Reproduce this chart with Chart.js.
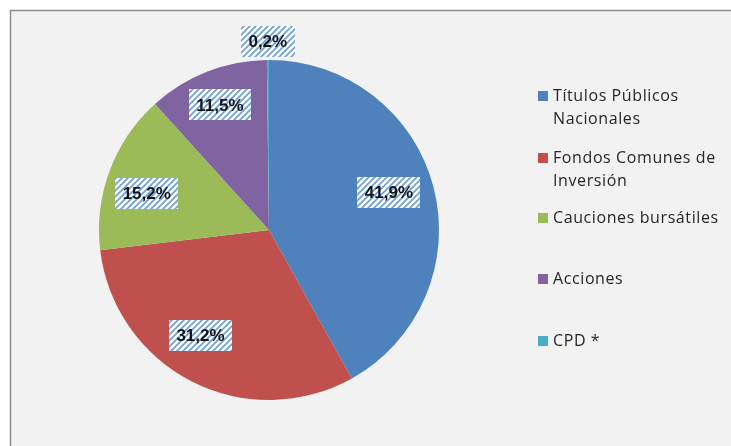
<!DOCTYPE html>
<html><head><meta charset="utf-8">
<script src="https://cdn.jsdelivr.net/npm/chart.js@4"></script>
<style>
html,body{margin:0;padding:0;background:#fff;}
#wrap{position:relative;width:731px;height:446px;}
</style></head>
<body><div id="wrap"><canvas id="c" width="731" height="446"></canvas></div>
<script>
const categories = ["Títulos Públicos Nacionales","Fondos Comunes de Inversión","Cauciones bursátiles","Acciones","CPD *"];
const legendLines = [["Títulos Públicos","Nacionales"],["Fondos Comunes de","Inversión"],["Cauciones bursátiles"],["Acciones"],["CPD *"]];
const values = [41.9, 31.2, 15.2, 11.5, 0.2];
const valueLabels = ["41,9%","31,2%","15,2%","11,5%","0,2%"];
const colors = ["#4f81bd","#c0504d","#9bbb59","#8064a2","#4bacc6"];

function hatch(){
  const p=document.createElement('canvas'); p.width=6; p.height=6;
  const g=p.getContext('2d');
  g.fillStyle='#ffffff'; g.fillRect(0,0,6,6);
  g.strokeStyle='#6f9fd8'; g.lineWidth=1.7;
  g.beginPath();
  g.moveTo(-1,7); g.lineTo(7,-1);
  g.moveTo(-4,4); g.lineTo(4,-4);
  g.moveTo(2,10); g.lineTo(10,2);
  g.stroke();
  return p;
}

const bgPlugin={id:'bg',beforeDraw(ch){
  const c=ch.ctx; c.save();
  c.fillStyle='#ffffff'; c.fillRect(0,0,ch.width,ch.height);
  c.fillStyle='#f2f2f2'; c.fillRect(10,10,ch.width-10,ch.height-10);
  c.strokeStyle='#8c8c8c'; c.lineWidth=1.5;
  c.beginPath(); c.moveTo(10.5,ch.height); c.lineTo(10.5,10.5); c.lineTo(ch.width,10.5); c.stroke();
  c.restore();
}};

// label placement relative to each slice: radial fraction and angular shift (deg)
const labelPlace=[{r:0.74,da:-3},{r:0.74,da:6},{r:0.75,da:-4},{r:0.79,da:0},{r:1.11,da:0}];

const labelPlugin={id:'lbls',afterDatasetsDraw(ch){
  const c=ch.ctx; const meta=ch.getDatasetMeta(0);
  const pat=c.createPattern(hatch(),'repeat');
  c.save();
  c.font='bold 17px "Liberation Sans", Arial, sans-serif';
  c.textAlign='center'; c.textBaseline='middle';
  meta.data.forEach((arc,i)=>{
    const {x,y,startAngle,endAngle,outerRadius}=arc.getProps(['x','y','startAngle','endAngle','outerRadius'],true);
    const mid=(startAngle+endAngle)/2 + labelPlace[i].da*Math.PI/180;
    const r=outerRadius*labelPlace[i].r;
    const lx=x+Math.cos(mid)*r, ly=y+Math.sin(mid)*r;
    const t=valueLabels[i]; const w=Math.round(c.measureText(t).width+15), h=31;
    c.fillStyle=pat; c.fillRect(Math.round(lx-w/2),Math.round(ly-h/2),w,h);
    c.fillStyle='#141414'; c.fillText(t,lx,ly+1);
  });
  c.restore();
}};

const legendPlugin={id:'leg',afterDraw(ch){
  const c=ch.ctx; c.save();
  c.font='16px "Open Sans", "DejaVu Sans", sans-serif';
  try{c.letterSpacing='0.6px';}catch(e){}
  c.textBaseline='middle'; c.textAlign='left';
  const ys=[96,158,218,279,341];
  legendLines.forEach((lines,i)=>{
    c.fillStyle=colors[i]; c.fillRect(538,ys[i]-5,10,10);
    c.fillStyle='#262626';
    lines.forEach((ln,j)=>c.fillText(ln,553,ys[i]+j*23));
  });
  c.restore();
}};

new Chart(document.getElementById('c'),{
  type:'pie',
  data:{labels:categories,datasets:[{data:values,backgroundColor:colors,borderWidth:0}]},
  options:{
    responsive:false,animation:false,
    layout:{padding:{left:99,right:292,top:60,bottom:46}},
    plugins:{legend:{display:false},tooltip:{enabled:false}}
  },
  plugins:[bgPlugin,labelPlugin,legendPlugin]
});
</script></body></html>
